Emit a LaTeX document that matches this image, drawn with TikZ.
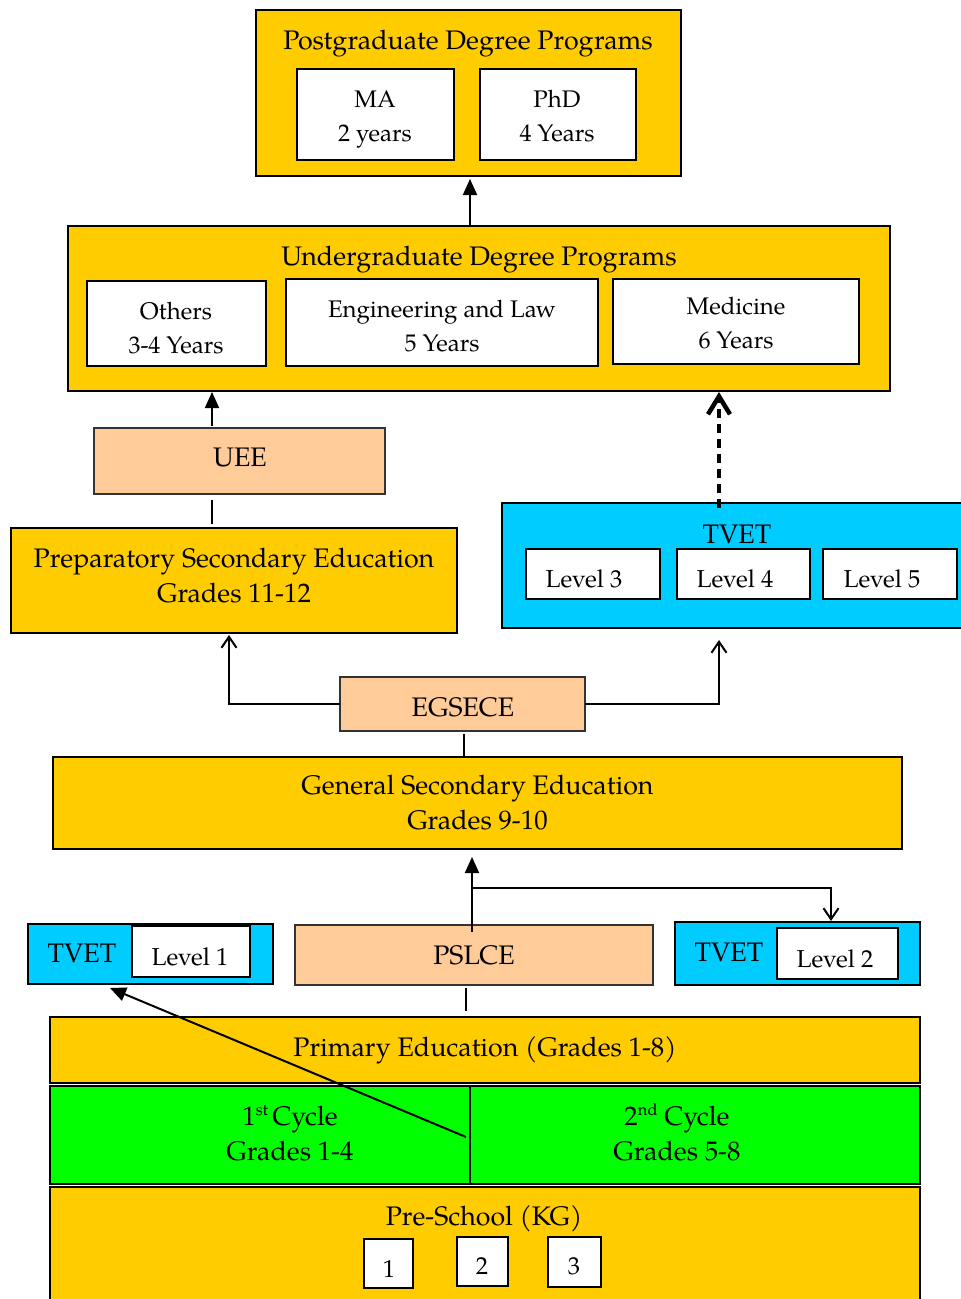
\documentclass[tikz,border=0pt]{standalone}
\usepackage{fontspec}
\setmainfont{texgyrepagella-regular.otf}
\usetikzlibrary{arrows.meta,calc}
\definecolor{gold}{HTML}{FFCC00}
\definecolor{peach}{HTML}{FFCC99}
\definecolor{tcyan}{HTML}{00CCFF}
\definecolor{lgreen}{HTML}{00FF00}
\tikzset{
  box/.style={draw=black, line width=1.8pt, inner sep=0pt, outer sep=0pt, anchor=center},
  goldbox/.style={box, fill=gold},
  peachbox/.style={box, fill=peach, draw=black!80},
  cyanbox/.style={box, fill=tcyan},
  greenbox/.style={box, fill=lgreen},
  whitebox/.style={box, fill=white},
  txt/.style={font=\fontsize{26.8}{35}\selectfont, align=center, inner sep=0pt},
  stxt/.style={font=\fontsize{24}{34}\selectfont, align=center, inner sep=0pt},
  lvl/.style={font=\fontsize{24.5}{30}\selectfont, inner sep=0pt},
  conn/.style={line width=2pt},
  arrfill/.style={conn, -{Triangle[length=16pt,width=14pt]}},
  arropen/.style={conn, -{Straight Barb[length=11pt,width=15pt]}},
}
\newcommand{\supx}[1]{\smash{\raisebox{0.4em}{\fontsize{16.5}{16.5}\selectfont #1}}}
\begin{document}
\begin{tikzpicture}[x=1pt,y=-1pt]
\useasboundingbox (0,0) rectangle (961,1299);
\fill[white] (0,0) rectangle (961,1299);

% Postgraduate
\node[goldbox, minimum width=425, minimum height=166] (pg) at (468.5,93) {};
\node[txt] (pgt) at (468,44) {Postgraduate Degree Programs};
\node[whitebox, minimum width=157, minimum height=91] (ma) at (375.5,114.5) {};
\node[stxt] at (375,119) {MA\\2 years};
\node[whitebox, minimum width=156, minimum height=91] (phd) at (558,114.5) {};
\node[stxt] at (557,116.5) {PhD\\4 Years};

% Undergraduate
\node[goldbox, minimum width=822, minimum height=165] (ug) at (479,308.5) {};
\node[txt] (ugt) at (479,260) {Undergraduate Degree Programs};
\node[whitebox, minimum width=179, minimum height=85] (oth) at (176.5,323.5) {};
\node[stxt] at (176,328) {Others\\3-4 Years};
\node[whitebox, minimum width=312, minimum height=87] (eng) at (442,322.5) {};
\node[stxt] at (442,326) {Engineering and Law\\5 Years};
\node[whitebox, minimum width=246, minimum height=85] (med) at (736,321.5) {};
\node[stxt] at (736,323) {Medicine\\6 Years};

% UEE / Preparatory
\node[peachbox, minimum width=291, minimum height=66] (uee) at (239.5,461) {};
\node[txt] at (240,457) {UEE};
\node[goldbox, minimum width=446, minimum height=105] (prep) at (234,580.5) {};
\node[txt] at (234,576) {Preparatory Secondary Education\\Grades 11-12};

% TVET upper
\node[cyanbox, minimum width=473, minimum height=125] (tvet) at (738.5,565.5) {};
\node[txt] (tvett) at (737,534) {TVET};
\node[whitebox, minimum width=134, minimum height=50] (l3) at (593,574) {};
\node[lvl] at (584,579) {Level 3};
\node[whitebox, minimum width=133, minimum height=50] (l4) at (743.5,574) {};
\node[lvl] at (735,579) {Level 4};
\node[whitebox, minimum width=134, minimum height=50] (l5) at (890,574) {};
\node[lvl] at (882,579) {Level 5};

% EGSECE / General secondary
\node[peachbox, minimum width=245, minimum height=54] (eg) at (462.5,704) {};
\node[txt] at (463,707) {EGSECE};
\node[goldbox, minimum width=849, minimum height=92, txt] (gen) at (477.5,803) {General Secondary Education\\Grades 9-10};

% Lower row
\node[cyanbox, minimum width=245, minimum height=60] (tv1) at (150.5,954) {};
\node[txt] at (82,953) {TVET};
\node[whitebox, minimum width=118, minimum height=51] (lv1) at (191,951.5) {};
\node[lvl] at (190,957) {Level 1};
\node[peachbox, minimum width=358, minimum height=60, txt] (pslce) at (474,955) {PSLCE};
\node[cyanbox, minimum width=245, minimum height=63] (tv2) at (797.5,953.5) {};
\node[txt] at (729,952) {TVET};
\node[whitebox, minimum width=121, minimum height=51] (lv2) at (837.5,953.5) {};
\node[lvl] at (835,959) {Level 2};

% Primary
\node[goldbox, minimum width=870, minimum height=66, txt] (prim) at (485,1050) {Primary Education (Grades 1-8)};
\node[greenbox, minimum width=420, minimum height=98] (c1) at (260,1135) {};
\node[greenbox, minimum width=450, minimum height=98] (c2) at (695,1135) {};
\node[txt] at (290,1134) {1\supx{st}\,Cycle\\Grades 1-4};
\node[txt] at (677,1134) {2\supx{nd} Cycle\\Grades 5-8};

% Pre-school
\node[goldbox, minimum width=870, minimum height=123] (pre) at (485,1248.5) {};
\node[txt] at (484,1219) {Pre-School (KG)};
\node[whitebox, minimum width=49, minimum height=49] (k1) at (388.5,1263.5) {};
\node[lvl] at (389,1269) {1};
\node[whitebox, minimum width=51, minimum height=49] (k2) at (482.5,1261.5) {};
\node[lvl] at (482,1266) {2};
\node[whitebox, minimum width=53, minimum height=50] (k3) at (574.5,1262) {};
\node[lvl] at (574,1266) {3};

% helper x positions
\coordinate (x470) at (470,0);
\coordinate (x212) at (212,0);
\coordinate (x719) at (719,0);
\coordinate (x229) at (229,0);
\coordinate (x464) at (464,0);
\coordinate (x472) at (472,0);
\coordinate (x831) at (831,0);
\coordinate (x466) at (466,0);
\coordinate (x110) at (110,0);
\coordinate (br) at (472,888);
\coordinate (ds) at (466,1137);

% connectors
\draw[arrfill] (ug.north -| x470) -- ([yshift=-3pt]pg.south -| x470);
\draw[arrfill] ([yshift=2pt]uee.north -| x212) -- ([yshift=-1pt]ug.south -| x212);
\draw[conn, shorten <=4pt, shorten >=6pt] (prep.north -| x212) -- (uee.south -| x212);
\draw[line width=4pt, dash pattern=on 9pt off 6pt, -{Straight Barb[length=18pt,width=22pt,line width=4.5pt]}]
  ([yshift=-5pt]tvet.north -| x719) -- ([yshift=-1pt]ug.south -| x719);
\draw[arropen] (eg.west) -| ([yshift=-2pt]prep.south -| x229);
\draw[arropen] (eg.east) -| ([yshift=-12pt]tvet.south -| x719);
\draw[conn, shorten <=3pt] (eg.south -| x464) -- (gen.north -| x464);
\draw[arrfill] ([yshift=-7pt]pslce.north -| x472) -- ([yshift=-8pt]gen.south -| x472);
\draw[arropen] (br) -| ([yshift=1pt]tv2.north -| x831);
\draw[conn, shorten <=3pt, shorten >=6pt] (pslce.south -| x466) -- (prim.north -| x466);
\draw[arrfill] (ds) -- ([yshift=-4pt]tv1.south -| x110);
\end{tikzpicture}
\end{document}
